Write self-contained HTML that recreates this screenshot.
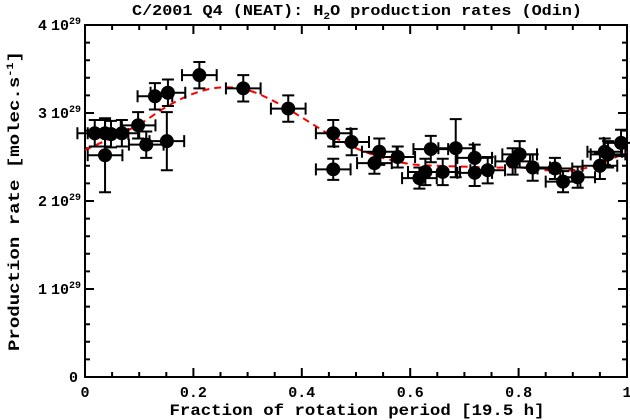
<!DOCTYPE html>
<html><head><meta charset="utf-8"><style>
html,body{margin:0;padding:0;background:#fff;}
svg{display:block;font-family:"Liberation Sans",sans-serif;font-weight:bold;}
</style></head><body>
<svg id="chart" width="630" height="420">
<text x="357" y="15" text-anchor="middle" font-size="15" font-family="Liberation Mono" textLength="450" lengthAdjust="spacingAndGlyphs">C/2001 Q4 (NEAT): H<tspan font-size="10" dy="4">2</tspan><tspan dy="-4">O production rates (Odin)</tspan></text>
<text transform="translate(19,201) rotate(-90)" text-anchor="middle" font-size="16" font-family="Liberation Mono" textLength="300" lengthAdjust="spacingAndGlyphs">Production rate [molec.s<tspan font-size="10" dy="-6">-1</tspan><tspan dy="6">]</tspan></text>
<text x="357" y="415" text-anchor="middle" font-size="16" font-family="Liberation Mono" textLength="375" lengthAdjust="spacingAndGlyphs">Fraction of rotation period [19.5 h]</text>
<g id="axes"></g><g id="curve"></g><g id="points"></g>
</svg>
<script>
const xs=[0.018,0.037,0.037,0.048,0.068,0.098,0.113,0.129,0.153,0.151,0.211,0.292,0.375,0.458,0.458,0.492,0.543,0.534,0.577,0.617,0.628,0.638,0.660,0.684,0.719,0.719,0.743,0.789,0.802,0.826,0.867,0.882,0.909,0.950,0.959,0.965,0.989];
const ys=[2.77,2.77,2.52,2.76,2.77,2.86,2.64,3.19,3.23,2.68,3.43,3.28,3.05,2.77,2.36,2.67,2.56,2.43,2.50,2.26,2.33,2.59,2.33,2.60,2.32,2.49,2.35,2.45,2.53,2.38,2.37,2.22,2.27,2.40,2.56,2.53,2.66];
const yerr=[0.15,0.15,0.42,0.15,0.15,0.15,0.15,0.15,0.15,0.33,0.15,0.15,0.15,0.15,0.12,0.15,0.15,0.12,0.12,0.12,0.15,0.15,0.15,0.33,0.15,0.15,0.15,0.15,0.15,0.15,0.12,0.12,0.12,0.15,0.15,0.15,0.15];
const xerr=0.032;
const fitX=[0,0.05,0.1,0.15,0.2,0.25,0.3,0.35,0.4,0.45,0.5,0.55,0.6,0.65,0.7,0.75,0.8,0.85,0.9,0.95,1];
const fitY=[2.58,2.72,2.87,3.07,3.22,3.29,3.26,3.13,2.95,2.76,2.60,2.49,2.42,2.40,2.39,2.38,2.38,2.35,2.35,2.42,2.56];
const xTicks=[0,0.2,0.4,0.6,0.8,1];
const xTickLabels=["0","0.2","0.4","0.6","0.8","1"];
const yTicks=[0,1,2,3,4];
const yTickLabels=["0","1","2","3","4"];
const X0=85,X1=627,Y0=377,Y1=25;
const sx=v=>X0+(X1-X0)*v, sy=v=>Y0-(Y0-Y1)*v/4;
const NS="http://www.w3.org/2000/svg";
function mk(tag,attrs,parent){const e=document.createElementNS(NS,tag);for(const k in attrs)e.setAttribute(k,attrs[k]);parent.appendChild(e);return e;}
const ax=document.getElementById('axes');
let frame=mk('rect',{x:X0,y:Y1,width:X1-X0,height:Y0-Y1,fill:'none',stroke:'#000','stroke-width':2},ax);


let tp='';
for(let i=0;i<=20;i++){const v=i*0.05,x=sx(v),L=(i%4===0)?9:5;tp+=`M${x},${Y0}v${-L}M${x},${Y1}v${L}`;}
for(let i=0;i<=20;i++){const v=i*0.2,y=sy(v),L=(i%5===0)?9:5;tp+=`M${X0},${y}h${L}M${X1},${y}h${-L}`;}
let ticks=mk('path',{d:tp,stroke:'#000','stroke-width':2,fill:'none'},ax);


xTicks.forEach((v,i)=>{const t=mk('text',{x:sx(v),y:Y0+20,'text-anchor':'middle','font-size':15,'font-family':'Liberation Mono'},ax);t.textContent=xTickLabels[i];

});
yTicks.forEach((v,i)=>{const t=mk('text',{x:v===0?78:47,y:sy(v)+5,'text-anchor':'end','font-size':15,'font-family':'Liberation Mono'},ax);t.textContent=yTickLabels[i];


if(v>0){const e=mk('text',{x:51,y:sy(v)+5,'font-size':15,'font-family':'Liberation Mono'},ax);e.innerHTML='10<tspan font-size="10" dy="-6">29</tspan>';

}});
const P=fitX.map((v,i)=>[sx(v),sy(fitY[i])]);
let d=`M${P[0][0]},${P[0][1]}`;
for(let i=0;i<P.length-1;i++){const p0=P[i-1]||P[i],p1=P[i],p2=P[i+1],p3=P[i+2]||P[i+1];
d+=`C${p1[0]+(p2[0]-p0[0])/6},${p1[1]+(p2[1]-p0[1])/6} ${p2[0]-(p3[0]-p1[0])/6},${p2[1]-(p3[1]-p1[1])/6} ${p2[0]},${p2[1]}`;}
const cv=mk('path',{d:d,fill:'none',stroke:'#f00','stroke-width':2,'stroke-dasharray':'7,5'},document.getElementById('curve'));


const pg=document.getElementById('points');
xs.forEach((v,i)=>{const x=sx(v),y=sy(ys[i]),ya=sy(ys[i]+yerr[i]),yb=sy(ys[i]-yerr[i]),xa=sx(v-xerr),xb=sx(v+xerr);
const eb=mk('path',{d:`M${x},${ya}V${yb}M${x-6},${ya}h12M${x-6},${yb}h12M${xa},${y}H${xb}M${xa},${y-6}v12M${xb},${y-6}v12`,stroke:'#000','stroke-width':2,fill:'none'},pg);


const c=mk('circle',{cx:x,cy:y,r:7,fill:'#000'},pg);

});
</script>
</body></html>
